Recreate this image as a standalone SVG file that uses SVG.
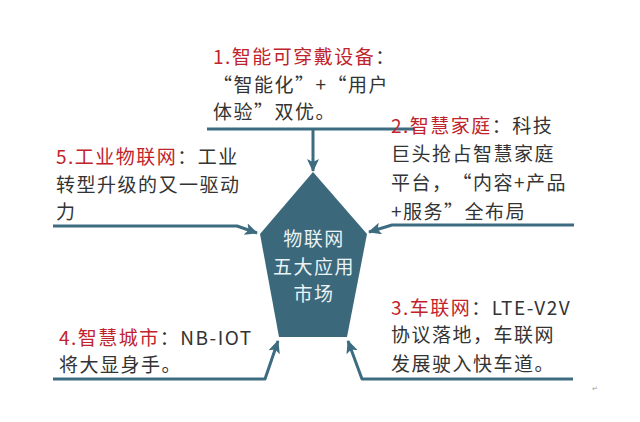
<svg xmlns="http://www.w3.org/2000/svg" width="640" height="422" viewBox="0 0 640 422">
<defs>
<style>
.t{font-family:"Noto Sans CJK SC","Liberation Sans",sans-serif;font-size:19px;fill:#333;letter-spacing:1.5px;text-spacing-trim:space-all}
.r{fill:#c0232b}
.c{font-family:"Noto Sans CJK SC","Liberation Sans",sans-serif;font-size:19px;fill:#eaf3f6;text-anchor:middle;letter-spacing:1.5px}
.ln{fill:none;stroke:#3d6c80;stroke-width:3;stroke-linejoin:round}
</style>
<marker id="ah" markerUnits="userSpaceOnUse" markerWidth="14" markerHeight="12" refX="12" refY="6" orient="auto">
<path d="M0,0 L13,6 L0,12 L3,6 Z" fill="#3d6c80"/>
</marker>
</defs>
<rect width="640" height="422" fill="#fff"/>
<g id="center">
<polygon points="313,172 367,234 347,337 279,337 260,234" fill="#3b687b"/>
<text class="c" x="314" y="246">物联网</text>
<text class="c" x="314" y="274">五大应用</text>
<text class="c" x="314" y="301">市场</text>
</g>
<g id="connectors">
<path class="ln" d="M207,129 L415,129"/>
<path class="ln" d="M313,129 L313,171" marker-end="url(#ah)"/>
<path class="ln" d="M53,226 L237,226 L257,233" marker-end="url(#ah)"/>
<path class="ln" d="M574,225 L392,225 L369,232" marker-end="url(#ah)"/>
<path class="ln" d="M53,379 L265,379 L278,341" marker-end="url(#ah)"/>
<path class="ln" d="M573,379 L362,379 L348,341" marker-end="url(#ah)"/>
</g>
<g id="n1">
<text class="t" x="213" y="64"><tspan class="r">1.智能可穿戴设备</tspan>：</text>
<text class="t" x="213" y="92">“智能化”+“用户</text>
<text class="t" x="213" y="119">体验”双优。</text>
</g>
<g id="n2">
<text class="t" x="391" y="133"><tspan class="r">2.智慧家庭</tspan>：科技</text>
<text class="t" x="391" y="161">巨头抢占智慧家庭</text>
<text class="t" x="391" y="190">平台，“内容+产品</text>
<text class="t" x="391" y="219">+服务”全布局</text>
</g>
<g id="n5">
<text class="t" x="56" y="164"><tspan class="r">5.工业物联网</tspan>：工业</text>
<text class="t" x="56" y="192">转型升级的又一驱动</text>
<text class="t" x="56" y="219">力</text>
</g>
<g id="n4">
<text class="t" x="59" y="345"><tspan class="r">4.智慧城市</tspan>：NB-IOT</text>
<text class="t" x="59" y="372">将大显身手。</text>
</g>
<g id="n3">
<text class="t" x="391" y="315"><tspan class="r">3.车联网</tspan>：LTE-V2V</text>
<text class="t" x="391" y="342">协议落地，车联网</text>
<text class="t" x="391" y="371">发展驶入快车道。</text>
</g>
<text x="592" y="391" font-family="Liberation Sans,sans-serif" font-size="7" fill="#999">↵</text>
</svg>
